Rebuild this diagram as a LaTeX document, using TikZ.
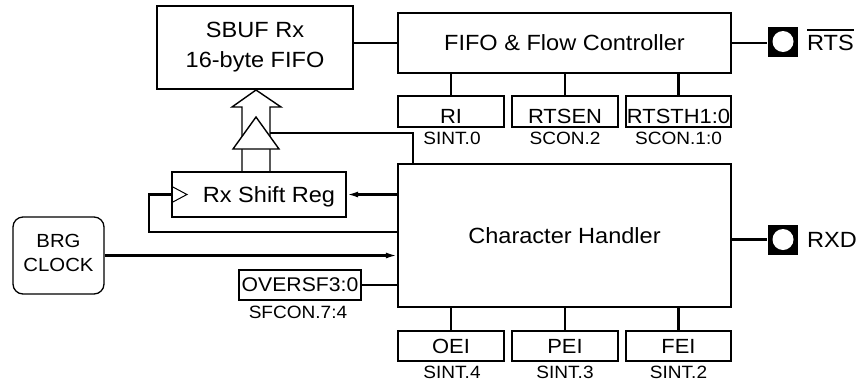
\documentclass[tikz,border=0pt]{standalone}
\usepackage{fontspec}
\setmainfont{Liberation Sans}[FakeStretch=1.07]
\usetikzlibrary{arrows.meta,calc}
\newcommand{\myovl}[1]{\setbox0\hbox{#1}\rlap{\rule[\dimexpr\ht0+4pt\relax]{\wd0}{1.8pt}}\box0}
\begin{document}
\begin{tikzpicture}[x=1pt,y=-1pt,line width=2.1pt,
  box/.style={draw,rectangle,inner sep=0pt,font=\fontsize{22}{26}\selectfont,text depth=0pt},
  reg/.style={draw,rectangle,inner sep=0pt,font=\fontsize{20.5}{24}\selectfont,text depth=0pt},
  lowtxt/.style={text height=24.7pt,text depth=0pt},
  lbl/.style={inner sep=0pt,font=\fontsize{17.8}{21}\selectfont,text depth=0pt},
  pin/.style={fill=black,rectangle,minimum size=30pt,inner sep=0pt},
  pinhole/.style={fill=white,circle,minimum size=21pt,inner sep=0pt},
  pintxt/.style={anchor=base west,inner sep=0pt,font=\fontsize{22}{26}\selectfont},
  arr/.style={-{Latex[length=11pt,width=6pt]}},
  hollow/.style={line width=1.4pt,line join=miter}]
\useasboundingbox (0,0) rectangle (866,381);

% main blocks
\node[box,minimum width=196pt,minimum height=83pt,align=center,
      font=\fontsize{22}{30}\selectfont,text depth=6pt] (sbuf) at (255,47.5) {SBUF Rx\\16-byte FIFO};
\node[box,minimum width=333pt,minimum height=60pt] (fifo) at (564.5,43) {FIFO \& Flow Controller};
\node[box,minimum width=333pt,minimum height=143pt] (ch) at (564.5,235.5) {Character Handler};
\node[box,minimum width=174pt,minimum height=45pt] (rxsr) at (259,194.5) {\hspace*{20pt}Rx Shift Reg};
\node[draw,rounded corners=10pt,line width=1.3pt,minimum width=91pt,minimum height=77pt,inner sep=0pt,
      align=center,font=\fontsize{19}{24}\selectfont,text depth=5pt] (brg) at (58.5,255.5) {BRG\\CLOCK};
\node[reg,font=\fontsize{19.8}{24}\selectfont,minimum width=122pt,minimum height=30pt] (oversf) at (300,285) {OVERSF3:0};
\node[lbl] (sfcon) at (298,312.5) {SFCON.7:4};

% register boxes under FIFO controller
\node[reg,lowtxt,minimum width=106pt,minimum height=31pt] (ri) at (451,111.5) {RI};
\node[reg,lowtxt,minimum width=106pt,minimum height=31pt] (rtsen) at (565,111.5) {RTSEN};
\node[reg,lowtxt,minimum width=105pt,minimum height=31pt] (rtsth) at (678.5,111.5) {RTSTH1:0};
\node[lbl] (ril) at (452,138) {SINT.0};
\node[lbl] (rtsenl) at (565,138) {SCON.2};
\node[lbl] (rtsthl) at (678.5,138) {SCON.1:0};

% register boxes under character handler
\node[reg,minimum width=106pt,minimum height=30pt] (oei) at (451,346) {OEI};
\node[reg,minimum width=106pt,minimum height=30pt] (pei) at (565,346) {PEI};
\node[reg,minimum width=105pt,minimum height=30pt] (fei) at (678.5,346) {FEI};
\node[lbl] (oeil) at (452,372) {SINT.4};
\node[lbl] (peil) at (565,372) {SINT.3};
\node[lbl] (feil) at (678.5,372) {SINT.2};

% pins
\node[pin] (rtspin) at (783,41.5) {};
\node[pinhole] (rtshole) at (rtspin) {};
\node[pintxt] (rtstxt) at (806,50.5) {\myovl{RTS}};
\node[pin] (rxdpin) at (783,239.5) {};
\node[pinhole] (rxdhole) at (rxdpin) {};
\node[pintxt] (rxdtxt) at (806,247.5) {RXD};

% connectors
\draw (fifo.west) -- (fifo.west -| sbuf.east);
\foreach \n in {ri,rtsen,rtsth} \draw (\n.north) -- (\n.north |- fifo.south);
\foreach \n in {oei,pei,fei} \draw (\n.north) -- (\n.north |- ch.south);
\draw (fifo.east) -- (fifo.east -| rtspin.west);
\draw (rxdpin.west -| ch.east) -- (rxdpin.west);
\draw[arr] (rxsr.east -| ch.west) -- (rxsr.east);
\coordinate (loopc) at (149,232);
\draw (loopc -| ch.west) -- (loopc) |- (rxsr.west);
\draw[arr] (brg.east) -- (brg.east -| ch.west);
\draw (oversf.east) -- (oversf.east -| ch.west);

% clock input marker
\draw[line width=1pt] ($(rxsr.west)+(1,-8)$) -- ($(rxsr.west)+(16,0)$) -- ($(rxsr.west)+(1,8)$);

% hollow bus arrow
\coordinate (stemL) at (242,107);
\coordinate (stemR) at (270,107);
\coordinate (headL) at (232,107);
\coordinate (headR) at (281,107);
\coordinate (apex) at (256,90);
\draw[hollow] (stemL |- rxsr.north) -- (stemL) -- (headL) -- (apex) -- (headR) -- (stemR) -- (stemR |- rxsr.north);
\coordinate (chtap) at ($(ch.north west)+(16,0)$);
\coordinate (tap) at (270,133);
\draw (chtap) |- (tap);
\coordinate (triL) at (233,149);
\coordinate (triT) at (256,117);
\coordinate (triR) at (279,149);
\draw[hollow,fill=white] (triL) -- (triT) -- (triR) -- cycle;
\end{tikzpicture}
\end{document}
